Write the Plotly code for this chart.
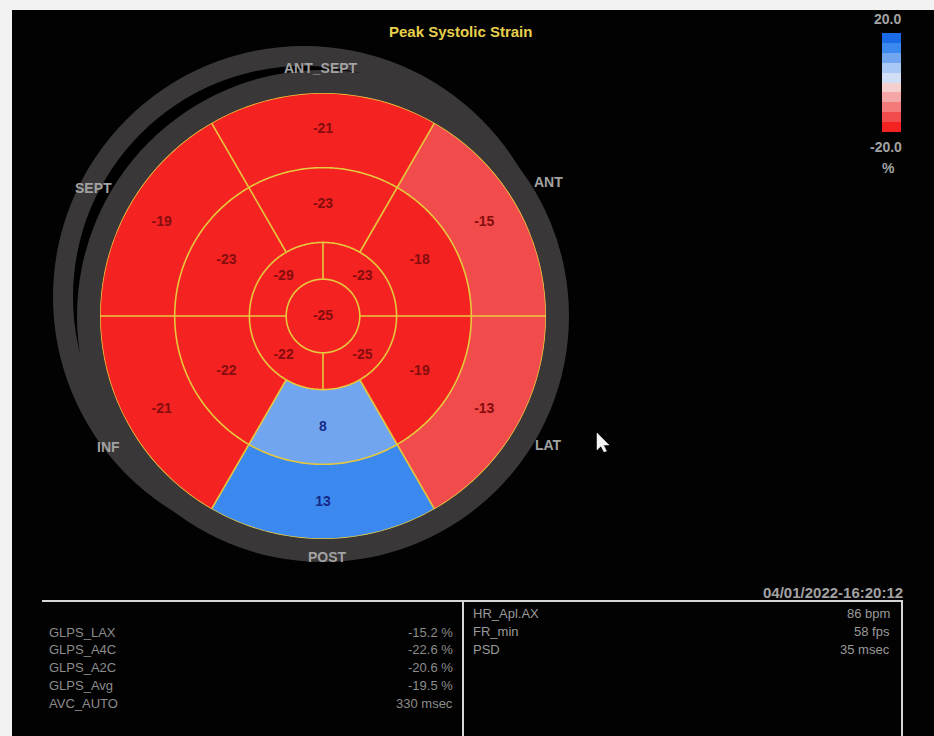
import numpy as np
import plotly.graph_objects as go

W, H = 934, 736


def fx(x):
    return x / W


def fy(y):
    return 1 - y / H


# ---------------- data ----------------
title_text = "Peak Systolic Strain"
# segment values, counter-clockwise starting at the upper-right segment
basal_values = [-15, -21, -19, -21, 13, -13]
mid_values = [-18, -23, -23, -22, 8, -19]
apical_values = [-23, -29, -22, -25]
apex_values = [-25]

wall_labels = ["ANT", "ANT_SEPT", "SEPT", "INF", "POST", "LAT"]

glps_labels = ["GLPS_LAX", "GLPS_A4C", "GLPS_A2C", "GLPS_Avg", "AVC_AUTO"]
glps_values = ["-15.2 %", "-22.6 %", "-20.6 %", "-19.5 %", "330 msec"]
info_labels = ["HR_Apl.AX", "FR_min", "PSD"]
info_values = ["86 bpm", "58 fps", "35 msec"]
timestamp = "04/01/2022-16:20:12"
cbar_max_label = "20.0"
cbar_min_label = "-20.0"
cbar_unit = "%"
cmin, cmax = -20, 20

# ---------------- style ----------------
band_colors = ["#f52222", "#f24b4b", "#f27a7a", "#f5a6a6", "#f5cece",
               "#d2def5", "#a9c8f4", "#72a5f0", "#3b88ee", "#1a6ce6"]
colorscale = []
n = len(band_colors)
for i, c in enumerate(band_colors):
    colorscale.append([i / n, c])
    colorscale.append([(i + 1) / n, c])

yellow = "#e6c83c"
label_gray = "#a2a2a2"
table_gray = "#8c8c8c"
ring_gray = "#3a3738"
font_family = "Liberation Sans, Arial, sans-serif"

R_EDGES = [0.0, 0.165, 0.33, 0.665, 1.0]
six_theta = [30, 90, 150, 210, 270, 330]
four_theta = [45, 135, 225, 315]

fig = go.Figure()


def ring_trace(values, theta, width, base, length):
    return go.Barpolar(
        r=[length] * len(values), theta=theta, width=[width] * len(values),
        base=[base] * len(values),
        marker=dict(color=values, coloraxis="coloraxis", line=dict(width=0)),
        hoverinfo="skip", showlegend=False,
    )


fig.add_trace(ring_trace(basal_values, six_theta, 60, R_EDGES[3], R_EDGES[4] - R_EDGES[3]))
fig.add_trace(ring_trace(mid_values, six_theta, 60, R_EDGES[2], R_EDGES[3] - R_EDGES[2]))
fig.add_trace(ring_trace(apical_values, four_theta, 90, R_EDGES[1], R_EDGES[2] - R_EDGES[1]))
fig.add_trace(ring_trace(apex_values, [0], 360, R_EDGES[0], R_EDGES[1] - R_EDGES[0]))

# segment borders
circ = np.linspace(0, 360, 361)
for rr in R_EDGES[1:]:
    fig.add_trace(go.Scatterpolar(r=[rr] * len(circ), theta=circ, mode="lines",
                                  line=dict(color=yellow, width=1.6),
                                  hoverinfo="skip", showlegend=False))
for ang in [0, 60, 120, 180, 240, 300]:
    fig.add_trace(go.Scatterpolar(r=[R_EDGES[2], R_EDGES[4]], theta=[ang, ang], mode="lines",
                                  line=dict(color=yellow, width=1.6),
                                  hoverinfo="skip", showlegend=False))
for ang in [0, 90, 180, 270]:
    fig.add_trace(go.Scatterpolar(r=[R_EDGES[1], R_EDGES[2]], theta=[ang, ang], mode="lines",
                                  line=dict(color=yellow, width=1.6),
                                  hoverinfo="skip", showlegend=False))

# value labels
all_vals = basal_values + mid_values + apical_values + apex_values
all_r = [0.835] * 6 + [0.5] * 6 + [0.25] * 4 + [0.0]
all_t = six_theta + six_theta + four_theta + [0]
fig.add_trace(go.Scatterpolar(
    r=all_r, theta=all_t, mode="text",
    text=["<b>%d</b>" % v for v in all_vals],
    textfont=dict(family=font_family, size=14, weight="bold",
                  color=["#850d0d" if v < 0 else "#142a86" for v in all_vals]),
    hoverinfo="skip", showlegend=False))

# ---------------- shapes ----------------
shapes = []


def circle(cx, cy, r, color):
    return dict(type="circle", xref="paper", yref="paper",
                x0=fx(cx - r), x1=fx(cx + r), y0=fy(cy + r), y1=fy(cy - r),
                fillcolor=color, line=dict(width=0), layer="below")


shapes.append(circle(304, 297, 251, ring_gray))
shapes.append(circle(304, 297, 231, "#000000"))
shapes.append(circle(323, 316, 246, ring_gray))

# white photo border
shapes.append(dict(type="rect", xref="paper", yref="paper", x0=0, x1=fx(12), y0=0, y1=1,
                   fillcolor="#f2f2f2", line=dict(width=0), layer="below"))
shapes.append(dict(type="rect", xref="paper", yref="paper", x0=0, x1=1, y0=fy(10), y1=1,
                   fillcolor="#f2f2f2", line=dict(width=0), layer="below"))

# table lines
line_col = "#d6d6d6"
shapes.append(dict(type="line", xref="paper", yref="paper", x0=fx(42), x1=fx(903),
                   y0=fy(601), y1=fy(601), line=dict(color=line_col, width=2)))
shapes.append(dict(type="line", xref="paper", yref="paper", x0=fx(463), x1=fx(463),
                   y0=fy(601), y1=0, line=dict(color=line_col, width=2)))
shapes.append(dict(type="line", xref="paper", yref="paper", x0=fx(902), x1=fx(902),
                   y0=fy(601), y1=0, line=dict(color=line_col, width=2)))

# mouse cursor
cur = [(597, 433), (597, 450), (601, 446), (604, 452), (606.5, 451), (603.5, 445), (609, 445)]
path = "M " + " L ".join("%.5f,%.5f" % (fx(x), fy(y)) for x, y in cur) + " Z"
shapes.append(dict(type="path", xref="paper", yref="paper", path=path,
                   fillcolor="#f4f4f4", line=dict(color="#f4f4f4", width=0.5)))

# ---------------- annotations ----------------
ann = []


def text(x, y, s, size=13, color=label_gray, anchor="center", bold=True):
    ann.append(dict(x=fx(x), y=fy(y), xref="paper", yref="paper", showarrow=False,
                    text=("<b>%s</b>" % s) if bold else s, xanchor=anchor, yanchor="middle",
                    font=dict(family=font_family, size=size, color=color)))


text(460, 32, title_text, size=15, color="#e8d04c")
wall_pos = [(548, 182), (321, 68), (93, 188), (108, 447), (327, 557), (548, 445)]
for lab, (x, y) in zip(wall_labels, wall_pos):
    text(x, y, lab, size=14)

text(887, 19, cbar_max_label, size=14)
text(886, 147, cbar_min_label, size=14)
text(888, 168, cbar_unit, size=14)

text(905, 592, timestamp, size=15, anchor="right")

for i, (lab, val) in enumerate(zip(glps_labels, glps_values)):
    y = 632 + i * 17.8
    text(47, y, lab, size=13, color=table_gray, anchor="left", bold=False)
    text(455, y, val, size=13, color=table_gray, anchor="right", bold=False)

for i, (lab, val) in enumerate(zip(info_labels, info_values)):
    y = 613 + i * 18
    text(471, y, lab, size=13, color="#9a9a9a", anchor="left", bold=False)
    text(892, y, val, size=13, color="#9a9a9a", anchor="right", bold=False)

fig.update_layout(
    width=W, height=H,
    margin=dict(l=0, r=0, t=0, b=0, pad=0),
    paper_bgcolor="#020202", plot_bgcolor="#020202",
    polar=dict(
        domain=dict(x=[fx(100), fx(546)], y=[fy(539), fy(93)]),
        bgcolor="rgba(0,0,0,0)",
        radialaxis=dict(visible=False, range=[0, 1]),
        angularaxis=dict(visible=False, rotation=0, direction="counterclockwise"),
        bargap=0,
    ),
    coloraxis=dict(
        colorscale=colorscale, cmin=cmin, cmax=cmax,
        colorbar=dict(x=fx(882), xanchor="left", y=fy(33), yanchor="top",
                      lenmode="pixels", len=99, thicknessmode="pixels", thickness=19,
                      xpad=0, ypad=0, outlinewidth=0, showticklabels=False, ticks=""),
    ),
    shapes=shapes,
    annotations=ann,
)

fig.write_html("out.html")
